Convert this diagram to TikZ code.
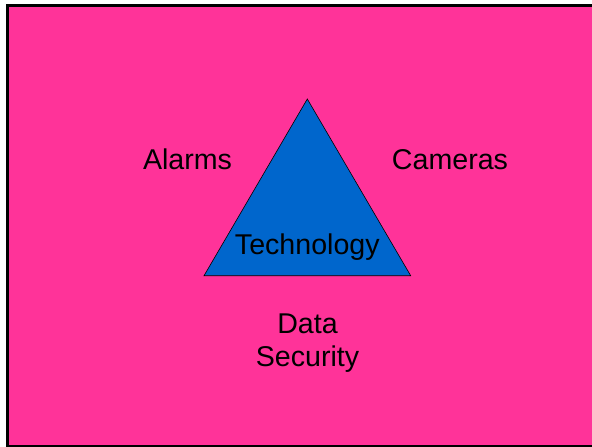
\documentclass[tikz,border=0pt]{standalone}
\usepackage{fontspec}
\setmainfont{Liberation Sans}
\usepackage{tikz}
\usetikzlibrary{calc}

\definecolor{slidepink}{RGB}{255,51,153}
\definecolor{slideblue}{RGB}{0,102,204}

\begin{document}
\begin{tikzpicture}
  [
    x=1pt, y=-1pt,
    frame/.style =
      {draw=black, line width=3pt, fill=slidepink},
    wedge/.style =
      {draw=black, line width=0.6pt, fill=slideblue, line join=miter},
    word/.style =
      {anchor=base, inner sep=0pt, align=center,
       font=\fontsize{28.6}{33.5}\selectfont}
  ]

\useasboundingbox (0,0) rectangle (592,447);
\clip (0,0) rectangle (592,447);

\draw [frame] (7.5,5.5) rectangle (610,446);

% triangle
\coordinate (apex)  at (307.3,99);
\coordinate (left)  at (204,275.7);
\coordinate (right) at (410.7,275.7);
\draw [wedge] (apex) -- (left) -- (right) -- cycle;

\node[word] (tech) at (307.3,254) {Technology};

\node[word] (alarms)  at (187.5,169) {Alarms};
\node[word] (cameras) at (450,169) {Cameras};

% base anchor sits on the last line
\node[word] (data) at (307.5,366.8) {Data\\Security};

\end{tikzpicture}
\end{document}
